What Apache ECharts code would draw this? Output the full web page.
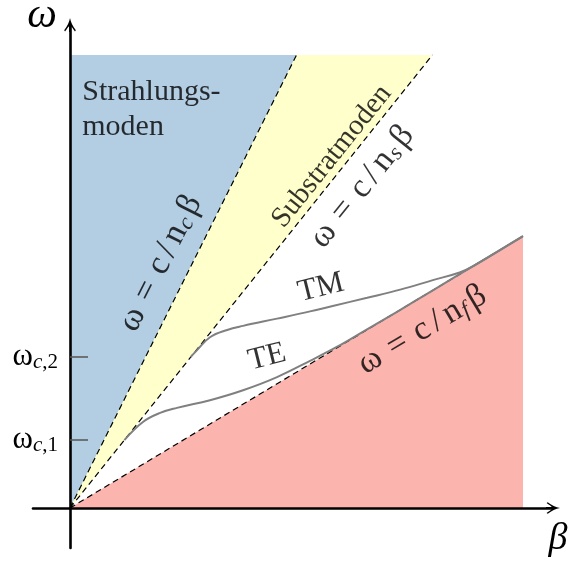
<!DOCTYPE html>
<html>
<head>
<meta charset="utf-8">
<script src="https://cdn.jsdelivr.net/npm/echarts@6/dist/echarts.min.js"></script>
<style>html,body{margin:0;padding:0;background:#fff}#chart{width:574px;height:565px}</style>
</head>
<body>
<div id="chart"></div>
<script>
// Dispersionsdiagramm Schichtwellenleiter
var cutoffValues = [1.5, 3.33];
var cutoffNames = ['c,1', 'c,2'];

var lineNc = [[0, 0], [5, 10]];
var lineNs = [[0, 0], [8, 10]];
var lineNf = [[0, 0], [10, 6]];

var regionRadiation = [[0, 0], [0, 10], [5, 10]];
var regionSubstrate = [[0, 0], [5, 10], [8, 10]];
var regionCore = [[0, 0], [10, 0], [10, 6]];

var modeTE = [[1.2, 1.5], [1.61, 1.9], [1.99, 2.1], [2.36, 2.21], [3.09, 2.38], [3.82, 2.6],
    [4.57, 2.89], [5.3, 3.25], [5.9, 3.56], [6.5, 3.91], [7.2, 4.32], [8, 4.8], [9, 5.4], [10, 6]];
var modeTM = [[2.66, 3.33], [2.8, 3.48], [3.09, 3.77], [3.47, 3.93], [3.82, 4.02], [4.57, 4.18],
    [5.3, 4.34], [5.8, 4.46], [6.56, 4.64], [7.29, 4.82], [8.01, 5.03], [8.6, 5.2], [8.9, 5.34],
    [9.5, 5.7], [10, 6]];

var serif = 'Liberation Serif';
var regions = [regionRadiation, regionSubstrate, regionCore];
var regionColors = ['#b3cde3', '#ffffcc', '#fbb4ae'];
var arrow = 'path://M10 0 Q12 11 20 21 L18.5 23 Q13 15 11.6 14 L11.6 24 L8.4 24 L8.4 14 Q7 15 1.5 23 L0 21 Q8 11 10 0 Z';

function lightLine(data) {
    return {
        type: 'line', data: data, showSymbol: false, silent: true, z: 2,
        lineStyle: {color: '#000', width: 1.2, type: [6, 4]}
    };
}
function modeLine(data) {
    return {
        type: 'line', data: data, smooth: 0.4, showSymbol: false, silent: true, z: 3,
        lineStyle: {color: '#808080', width: 2}
    };
}
function eq(sub) {
    return '{m|ω}{e|=}{m|c}{sl|/}{m|n}{s|' + sub + '}{m|β}';
}

var myChart = echarts.init(document.getElementById('chart'));
var option = {
    animation: false,
    grid: {left: 33, right: 21, top: 25, bottom: 17, containLabel: false, outerBoundsMode: 'none'},
    xAxis: {
        type: 'value', min: -0.817, max: 10.662, z: 5,
        name: 'β', nameLocation: 'end', nameGap: 5,
        nameTextStyle: {fontFamily: serif, fontStyle: 'italic', fontSize: 38, color: '#000',
            align: 'center', verticalAlign: 'top', padding: [12, 0, 0, 0]},
        axisLine: {onZero: true, symbol: ['none', arrow], symbolSize: [12, 14],
            lineStyle: {color: '#000', width: 2.6}},
        axisTick: {show: false}, axisLabel: {show: false}, splitLine: {show: false}
    },
    yAxis: {
        type: 'value', min: -0.883, max: 10.662, z: 5,
        name: 'ω', nameLocation: 'end', nameGap: 9,
        nameTextStyle: {fontFamily: serif, fontStyle: 'italic', fontSize: 42, color: '#000',
            align: 'right', verticalAlign: 'middle', padding: [0, 13, 0, 0]},
        axisLine: {onZero: true, symbol: ['none', arrow], symbolSize: [12, 14],
            lineStyle: {color: '#000', width: 2.6}},
        axisTick: {show: true, inside: true, length: 18, customValues: cutoffValues,
            lineStyle: {color: '#555', width: 1.5}},
        axisLabel: {
            show: true, margin: -25, customValues: cutoffValues,
            formatter: function (v) {
                var i = cutoffValues.indexOf(v);
                var parts = cutoffNames[i].split(',');
                return '{w|ω}{c|' + parts[0] + '}{n|,' + parts[1] + '}';
            },
            rich: {
                w: {fontFamily: serif, fontSize: 31, color: '#000'},
                c: {fontFamily: serif, fontStyle: 'italic', fontSize: 21, lineHeight: 12, verticalAlign: 'bottom', color: '#000'},
                n: {fontFamily: serif, fontSize: 21, lineHeight: 12, verticalAlign: 'bottom', color: '#000'}
            }
        },
        splitLine: {show: false}
    },
    series: [
        {
            type: 'custom', silent: true, z: 1,
            data: regions.map(function (r, i) { return [i, 0]; }),
            renderItem: function (params, api) {
                var pts = regions[params.dataIndex].map(function (p) { return api.coord(p); });
                return {type: 'polygon', shape: {points: pts}, style: {fill: regionColors[params.dataIndex]}};
            }
        },
        lightLine(lineNc),
        lightLine(lineNs),
        lightLine(lineNf),
        modeLine(modeTE),
        modeLine(modeTM),
        {
            type: 'scatter', symbolSize: 1, silent: true, z: 4,
            itemStyle: {color: 'rgba(0,0,0,0)'},
            label: {
                show: true, position: 'inside', color: '#000', textBorderWidth: 0,
                fontFamily: serif, fontSize: 31,
                rich: {
                    m: {fontFamily: serif, fontSize: 34, color: '#000'},
                    e: {fontFamily: serif, fontSize: 34, color: '#000', padding: [0, 11, 0, 11]},
                    sl: {fontFamily: serif, fontSize: 34, color: '#000', padding: [0, 5, 0, 5]},
                    s: {fontFamily: serif, fontStyle: 'italic', fontSize: 23, lineHeight: 12, verticalAlign: 'bottom',
                        color: '#000', padding: [0, 4, 0, 1]}
                }
            },
            data: [
                {value: [0.27, 8.8], label: {formatter: 'Strahlungs-\nmoden', align: 'left', fontSize: 30, lineHeight: 35}},
                {value: [2.0, 5.4], label: {formatter: eq('c'), rotate: 63.4}},
                {value: [5.78, 7.76], label: {formatter: 'Substratmoden', rotate: 51.3, fontSize: 29}},
                {value: [6.45, 7.09], label: {formatter: eq('s'), rotate: 51.3}},
                {value: [5.54, 4.86], label: {formatter: 'TM', rotate: 14}},
                {value: [4.35, 3.33], label: {formatter: 'TE', rotate: 14}},
                {value: [7.78, 3.93], label: {formatter: eq('f'), rotate: 30.9}}
            ]
        }
    ]
};
myChart.setOption(option);
</script>
</body>
</html>
